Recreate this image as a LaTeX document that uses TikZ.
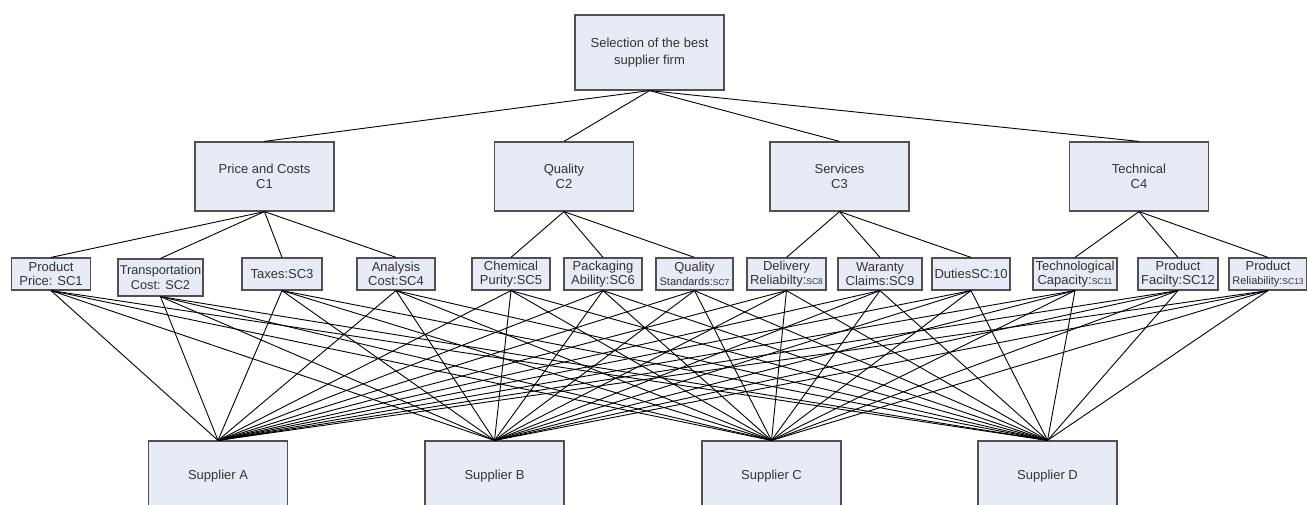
\documentclass[tikz,border=0pt]{standalone}
\usepackage{fontspec}
\setmainfont{Liberation Sans}
\definecolor{boxfill}{HTML}{E6EBF5}
\definecolor{boxdraw}{HTML}{505050}
\definecolor{txt}{HTML}{333333}
\newcommand{\smtxt}[1]{{\fontsize{11}{13}\selectfont #1}}
\newcommand{\tinytxt}[1]{{\fontsize{8.5}{10}\selectfont #1}}
\begin{document}
\begin{tikzpicture}[x=1pt,y=-1pt,
  bx/.style={draw=boxdraw, fill=boxfill, line width=1.2pt, text=txt, align=center,
    inner xsep=0.5pt, inner ysep=1pt, font=\fontsize{13}{15}\selectfont},
  topbox/.style={bx, minimum width=149, minimum height=75, font=\fontsize{13}{17}\selectfont},
  cbox/.style={bx, minimum width=139, minimum height=69},
  leafbox/.style={bx, minimum height=32, font=\fontsize{13}{14.5}\selectfont},
  supbox/.style={bx, minimum width=139, minimum height=70},
  conn/.style={draw=black, line width=0.9pt}]
\useasboundingbox (0,0) rectangle (1307,505);
\clip (0,0) rectangle (1307,505);
\fill[white] (0,0) rectangle (1307,505);

% root
\node[topbox] (root) at (649.5,52.5) {Selection of the best\\supplier firm};

% criteria
\node[cbox] (c1) at (264.5,176.5) {Price and Costs\\C1};
\node[cbox] (c2) at (564,176.5) {Quality\\C2};
\node[cbox] (c3) at (839.5,176.5) {Services\\C3};
\node[cbox] (c4) at (1139,176.5) {Technical\\C4};

% sub-criteria
\node[leafbox, minimum width=79] (s1) at (51,274) {Product\\Price: SC1};
\node[leafbox, minimum width=85, minimum height=37, font=\fontsize{12.7}{15}\selectfont] (s2) at (160.5,277.5) {Transportation\\Cost: SC2};
\node[leafbox, minimum width=80] (s3) at (282,274) {Taxes:SC3};
\node[leafbox, minimum width=78] (s4) at (396,274) {Analysis\\Cost:SC4};
\node[leafbox, minimum width=78] (s5) at (511,274) {Chemical\\Purity:SC5};
\node[leafbox, minimum width=78] (s6) at (603,274) {Packaging\\Ability:SC6};
\node[leafbox, minimum width=77] (s7) at (694.5,274) {Quality\\\smtxt{Standards:}\tinytxt{SC7}};
\node[leafbox, minimum width=79] (s8) at (786.5,274) {Delivery\\Reliabilty:\tinytxt{SC8}};
\node[leafbox, minimum width=84] (s9) at (880,274) {Waranty\\Claims:SC9};
\node[leafbox, minimum width=78] (s10) at (971,274) {DutiesSC:10};
\node[leafbox, minimum width=84] (s11) at (1075,274) {Technological\\Capacity:\tinytxt{SC11}};
\node[leafbox, minimum width=80] (s12) at (1178,274) {Product\\Facilty:SC12};
\node[leafbox, minimum width=78] (s13) at (1268,274) {Product\\\smtxt{Reliability:}\tinytxt{SC13}};

% suppliers
\node[supbox] (pa) at (218,476) {Supplier A};
\node[supbox] (pb) at (494.5,476) {Supplier B};
\node[supbox] (pc) at (771.5,476) {Supplier C};
\node[supbox] (pd) at (1047.5,476) {Supplier D};

% connectors: goal -> criteria
\foreach \c in {c1,c2,c3,c4} \draw[conn] (root.south) -- (\c.north);
% criteria -> sub-criteria
\foreach \s in {s1,s2,s3,s4} \draw[conn] (c1.south) -- (\s.north);
\foreach \s in {s5,s6,s7} \draw[conn] (c2.south) -- (\s.north);
\foreach \s in {s8,s9,s10} \draw[conn] (c3.south) -- (\s.north);
\foreach \s in {s11,s12,s13} \draw[conn] (c4.south) -- (\s.north);
% sub-criteria -> suppliers
\foreach \s in {s1,s2,s3,s4,s5,s6,s7,s8,s9,s10,s11,s12,s13}
  \foreach \p in {pa,pb,pc,pd}
    \draw[conn] (\s.south) -- (\p.north);
\end{tikzpicture}
\end{document}
